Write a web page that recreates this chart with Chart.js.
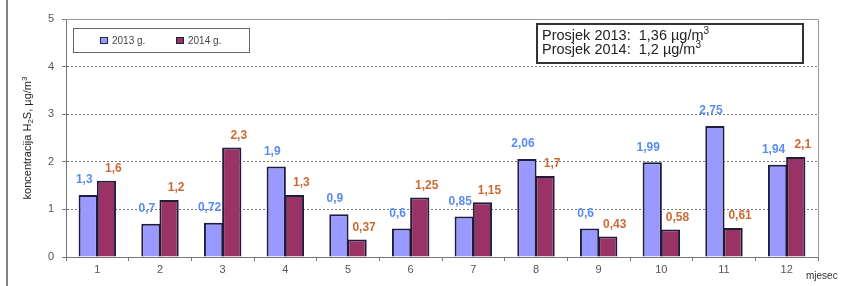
<!DOCTYPE html>
<html>
<head>
<meta charset="utf-8">
<script src="https://cdn.jsdelivr.net/npm/chart.js@4"></script>
<style>
  html, body { margin: 0; padding: 0; background: #fff; }
  canvas { display: block; }
</style>
</head>
<body>
<canvas id="h2sChart" width="848" height="286"></canvas>
<script>
const months = ["1", "2", "3", "4", "5", "6", "7", "8", "9", "10", "11", "12"];
const values2013 = [1.3, 0.7, 0.72, 1.9, 0.9, 0.6, 0.85, 2.06, 0.6, 1.99, 2.75, 1.94];
const values2014 = [1.6, 1.2, 2.3, 1.3, 0.37, 1.25, 1.15, 1.7, 0.43, 0.58, 0.61, 2.1];
const seriesNames = ["2013 g.", "2014 g."];
const averages = ["1,36", "1,2"];
const yTicks = [0, 1, 2, 3, 4, 5];

const FONT = "'Liberation Sans', Arial, sans-serif";
const fmt = (v) => String(v).replace(".", ",");

// text with a small raised/lowered part: parts = [[text, kind]]
const drawRich = (ctx, parts, x, y, size) => {
    let cx = x;
    parts.forEach(([txt, kind]) => {
        const s = kind ? Math.round(size * 0.7) : size;
        ctx.font = s + "px " + FONT;
        const dy = kind === "sup" ? -size * 0.3 : kind === "sub" ? size * 0.25 : 0;
        ctx.fillText(txt, cx, y + dy);
        cx += ctx.measureText(txt).width;
    });
    return cx - x;
};

const valueLabels = {
    id: "valueLabels",
    afterDatasetsDraw(chart) {
        const ctx = chart.ctx;
        ctx.save();
        ctx.font = "bold 12px " + FONT;
        ctx.textAlign = "center";
        ctx.textBaseline = "middle";
        chart.data.datasets.forEach((ds, di) => {
            const meta = chart.getDatasetMeta(di);
            ctx.fillStyle = di === 0 ? "#5a8cf0" : "#cc6a33";
            meta.data.forEach((bar, i) => {
                const dx = di === 0 ? -4 : 7;
                const dy = di === 0 ? 15 : 12;
                ctx.fillText(fmt(ds.data[i]), bar.x + dx, bar.y - dy);
            });
        });
        ctx.restore();
    },
};

const decorations = {
    id: "decorations",
    afterDraw(chart) {
        const ctx = chart.ctx;
        const a = chart.chartArea;
        ctx.save();

        // outer frame line on the left
        ctx.strokeStyle = "#808080";
        ctx.lineWidth = 2;
        ctx.beginPath();
        ctx.moveTo(7, 0);
        ctx.lineTo(7, 286);
        ctx.stroke();

        // plot area top and right border
        ctx.strokeStyle = "#9a9a9a";
        ctx.lineWidth = 1;
        ctx.beginPath();
        ctx.moveTo(a.left, a.top + 0.5);
        ctx.lineTo(a.right + 0.5, a.top + 0.5);
        ctx.lineTo(a.right + 0.5, a.bottom);
        ctx.stroke();

        // y axis title
        ctx.fillStyle = "#222";
        ctx.textBaseline = "middle";
        ctx.save();
        ctx.translate(28, (a.top + a.bottom) / 2);
        ctx.rotate(-Math.PI / 2);
        const titleParts = [["koncentracija H", ""], ["2", "sub"], ["S, µg/m", ""], ["3", "sup"]];
        let w = 0;
        titleParts.forEach(([t, k]) => {
            ctx.font = (k ? 8 : 11) + "px " + FONT;
            w += ctx.measureText(t).width;
        });
        drawRich(ctx, titleParts, -w / 2, 0, 11);
        ctx.restore();

        // x axis title
        ctx.font = "10px " + FONT;
        ctx.fillStyle = "#333";
        ctx.textAlign = "left";
        ctx.fillText("mjesec", 806, 276);

        // legend box
        ctx.fillStyle = "#fff";
        ctx.fillRect(73, 28, 176, 24);
        ctx.strokeStyle = "#666";
        ctx.lineWidth = 1;
        ctx.strokeRect(73.5, 28.5, 176, 24);
        const legendX = [100, 176];
        chart.data.datasets.forEach((ds, di) => {
            ctx.fillStyle = ds.backgroundColor;
            ctx.fillRect(legendX[di], 37, 8, 7);
            ctx.strokeStyle = "#202040";
            ctx.strokeRect(legendX[di] + 0.5, 37.5, 7, 6);
            ctx.fillStyle = "#444";
            ctx.font = "10px " + FONT;
            ctx.fillText(ds.label, legendX[di] + 12, 41);
        });

        // averages box
        ctx.fillStyle = "#fff";
        ctx.fillRect(537, 24, 266, 39);
        ctx.strokeStyle = "#333";
        ctx.lineWidth = 2;
        ctx.strokeRect(537, 24, 266, 39);
        ctx.fillStyle = "#222";
        ["2013", "2014"].forEach((yr, i) => {
            drawRich(ctx, [["Prosjek " + yr + ":  " + averages[i] + " µg/m", ""], ["3", "sup"]], 542, 36 + i * 14, 14.5);
        });

        ctx.restore();
    },
};

const chart = new Chart(document.getElementById("h2sChart"), {
    type: "bar",
    data: {
        labels: months,
        datasets: [
            {
                label: seriesNames[0],
                data: values2013,
                backgroundColor: "#9999ff",
                borderColor: "#1e1e3c",
                borderWidth: 2,
            },
            {
                label: seriesNames[1],
                data: values2014,
                backgroundColor: "#993366",
                borderColor: "#1e1e3c",
                borderWidth: 2,
            },
        ],
    },
    options: {
        responsive: false,
        animation: false,
        devicePixelRatio: 1,
        layout: {
            padding: { top: 19, right: 30, left: 0, bottom: 0 },
        },
        datasets: {
            bar: {
                categoryPercentage: 0.58,
                barPercentage: 1.06,
                inflateAmount: 0,
                borderSkipped: "bottom",
            },
        },
        plugins: {
            legend: { display: false },
            tooltip: { enabled: false },
        },
        scales: {
            x: {
                grid: {
                    offset: true,
                    drawOnChartArea: false,
                    drawTicks: true,
                    tickLength: 4,
                    color: "#777",
                },
                border: { color: "#777", width: 1 },
                ticks: {
                    color: "#555",
                    font: { family: FONT, size: 11 },
                    padding: 2,
                    maxRotation: 0,
                },
                afterFit: (scale) => {
                    scale.height = 29;
                },
            },
            y: {
                min: yTicks[0],
                max: yTicks[yTicks.length - 1],
                afterBuildTicks: (scale) => {
                    scale.ticks = yTicks.map((v) => ({ value: v }));
                },
                grid: {
                    color: "#777",
                    lineWidth: 1,
                    tickLength: 4,
                },
                border: { color: "#777", width: 1, dash: [2, 2] },
                ticks: {
                    color: "#555",
                    font: { family: FONT, size: 11 },
                    padding: 8,
                },
                afterFit: (scale) => {
                    scale.width = 66;
                },
            },
        },
    },
    plugins: [valueLabels, decorations],
});
</script>
</body>
</html>
